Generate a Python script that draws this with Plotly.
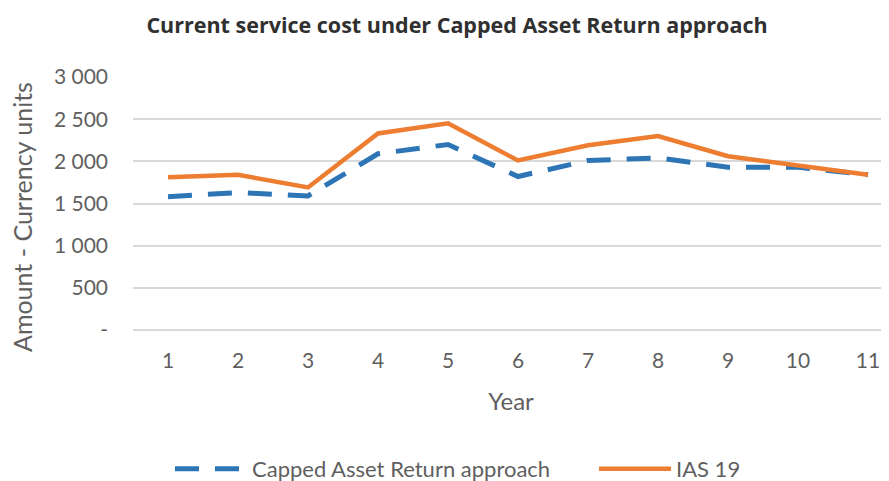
import plotly.graph_objects as go

years = [1, 2, 3, 4, 5, 6, 7, 8, 9, 10, 11]
year_labels = [str(y) for y in years]
capped = [1580, 1630, 1590, 2090, 2200, 1820, 2010, 2040, 1930, 1930, 1840]
ias19 = [1810, 1840, 1690, 2330, 2450, 2010, 2190, 2300, 2060, 1950, 1840]
y_ticks = [0, 500, 1000, 1500, 2000, 2500, 3000]
y_tick_labels = ["-", "500", "1 000", "1 500", "2 000", "2 500", "3 000"]

# the page body adds an 8px margin, so the figure is drawn 8px smaller
W, H = 881, 473
L, T, B = 125, 69, 151
grey = "#5f5f5f"
tick_font = dict(family="Lato, 'Open Sans', sans-serif", size=21, color=grey)
axis_title_font = dict(family="Lato, sans-serif", size=24, color=grey)
legend_font = dict(family="Lato, sans-serif", size=22, color=grey)

fig = go.Figure()
fig.add_trace(go.Scatter(
    x=years, y=capped, mode="lines", name="Capped Asset Return approach",
    line=dict(color="#2E75B6", width=5, dash="24px,16px"),
    legend="legend", showlegend=True,
))
fig.add_trace(go.Scatter(
    x=years, y=ias19, mode="lines", name="IAS 19",
    line=dict(color="#ED7D31", width=4.5),
    legend="legend2", showlegend=True,
))

plot_h = H - T - B
fig.add_annotation(
    text="Amount - Currency units", textangle=-90, showarrow=False,
    xref="paper", yref="paper",
    x=(14 - L) / (W - L), y=(H - B - 209) / plot_h,
    xanchor="center", yanchor="middle",
    font=dict(family="Lato, sans-serif", size=25, color=grey),
)

legend_common = dict(
    orientation="h", xref="container", xanchor="left",
    y=1 - 461 / H, yref="container", yanchor="middle",
    font=legend_font, itemwidth=72, bgcolor="rgba(0,0,0,0)",
)

fig.update_layout(
    width=W, height=H,
    showlegend=True,
    margin=dict(l=L, r=0, t=T, b=B),
    paper_bgcolor="white", plot_bgcolor="white",
    title=dict(
        text="<b>Current service cost under Capped Asset Return approach</b>",
        x=449 / W, xref="container", xanchor="center",
        y=1 - 17 / H, yref="container", yanchor="middle",
        font=dict(family="'Open Sans', Lato, sans-serif", size=21.5, color="#303030"),
    ),
    xaxis=dict(
        range=[0.5, 0.5 + (W - L) / 70],
        tickvals=years, ticktext=year_labels,
        showgrid=False, zeroline=False, showline=False,
        ticks="", tickfont=tick_font, ticklabelstandoff=16,
        title=dict(text="Year", font=axis_title_font, standoff=22),
        automargin=False,
    ),
    yaxis=dict(
        range=[0, 3000],
        tickvals=y_ticks, ticktext=y_tick_labels,
        showgrid=True, gridcolor="#d9d9d9", gridwidth=1.5,
        zeroline=True, zerolinecolor="#d9d9d9", zerolinewidth=1.5,
        showline=False, ticks="",
        tickfont=tick_font, ticklabelstandoff=24,
        automargin=False,
    ),
    legend=dict(x=(168 - 6) / W, **legend_common),
    legend2=dict(x=(590 - 4) / W, **legend_common),
)

fig.write_html("out.html")
